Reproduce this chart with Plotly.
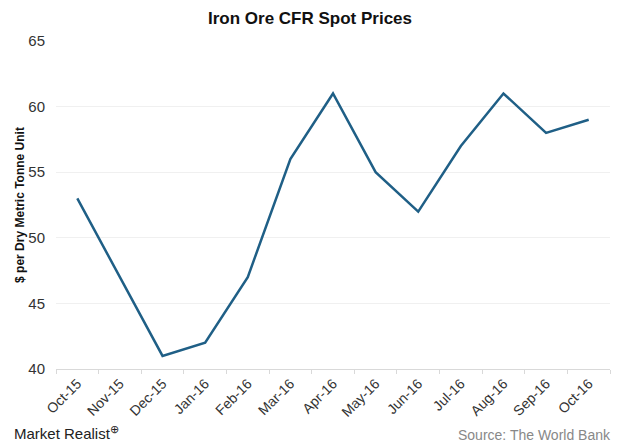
import plotly.graph_objects as go

months = ["Oct-15", "Nov-15", "Dec-15", "Jan-16", "Feb-16", "Mar-16", "Apr-16",
          "May-16", "Jun-16", "Jul-16", "Aug-16", "Sep-16", "Oct-16"]
prices = [53, 47, 41, 42, 47, 56, 61, 55, 52, 57, 61, 58, 59]
y_ticks = [40, 45, 50, 55, 60, 65]

fig = go.Figure()
fig.add_trace(go.Scatter(x=months, y=prices, mode="lines",
                         line=dict(color="#1f5f86", width=2.5)))

fig.update_layout(
    width=620, height=443,
    margin=dict(l=56, r=10, t=41, b=74),
    paper_bgcolor="white", plot_bgcolor="white",
    showlegend=False,
    font=dict(family="Liberation Sans, Arial, sans-serif", color="#333"),
    title=dict(text="<b>Iron Ore CFR Spot Prices</b>", x=0.5, xanchor="center",
               y=0.96, yanchor="middle", font=dict(size=17, color="#111")),
    xaxis=dict(type="category", tickangle=-45, tickfont=dict(size=14, color="#333"),
               showgrid=False, showline=True, linecolor="#d9d9d9", linewidth=1,
               ticks="outside", tickson="boundaries", ticklen=4, tickcolor="#d9d9d9",
               range=[-0.5, 12.5]),
    yaxis=dict(range=[40, 65], tickvals=y_ticks, tickfont=dict(size=15, color="#333"),
               showgrid=True, gridcolor="#f0f0f0", gridwidth=1, zeroline=False,
               showline=False, ticks="", ticklabelstandoff=10,
               title=dict(text="<b>$ per Dry Metric Tonne Unit</b>",
                          font=dict(size=12, color="#111"), standoff=1)),
)

fig.add_annotation(text="Market Realist<sup>\u2295</sup>", xref="paper", yref="paper",
                   x=-0.08, y=-(432 - 369) / 328, xanchor="left", yanchor="middle",
                   showarrow=False, font=dict(size=15, color="#222"))
fig.add_annotation(text="Source: The World Bank", xref="paper", yref="paper",
                   x=1.005, y=-(435 - 369) / 328, xanchor="right", yanchor="middle",
                   showarrow=False, font=dict(size=14, color="#888"))

fig.write_html("out.html", config={"displayModeBar": False})
with open("out.html", encoding="utf-8") as f:
    html = f.read()
html = html.replace("<head>", "<head><style>html,body{margin:0;padding:0;overflow:hidden;}</style>", 1)
with open("out.html", "w", encoding="utf-8") as f:
    f.write(html)
